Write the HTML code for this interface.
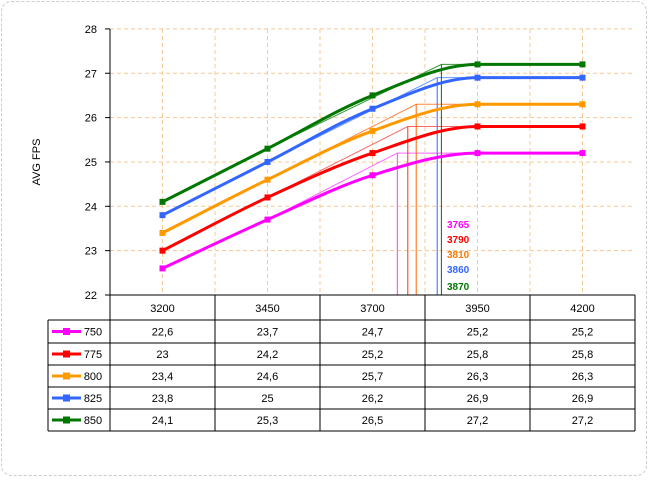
<!DOCTYPE html>
<html><head><style>
body{margin:0;background:#fff;font-family:"Liberation Sans",sans-serif;}
</style></head><body>
<svg id="s" width="648" height="477" xmlns="http://www.w3.org/2000/svg" font-family="Liberation Sans, sans-serif">
<rect x="1.5" y="1.5" width="645" height="474" rx="10" fill="#fff" stroke="#ccc" stroke-dasharray="3,2"/>
<g id="grid" stroke="#f5c896" stroke-dasharray="4,3" stroke-width="1"></g>
<text transform="translate(40,162) rotate(-90)" text-anchor="middle" font-size="11" fill="#000">AVG FPS</text>
<g id="ticks" font-size="11" text-anchor="end"></g>
<g id="thin" fill="none" stroke-width="1"></g>
<g id="main" fill="none" stroke-width="3"></g>
<g font-size="10" font-weight="bold">
<text x="447" y="228" fill="#ff00ff">3765</text>
<text x="447" y="243" fill="#ff0000">3790</text>
<text x="447" y="258" fill="#ff7700">3810</text>
<text x="447" y="273" fill="#3366ff">3860</text>
<text x="447" y="290" fill="#007700">3870</text>
</g>
<g id="tab" font-size="11" text-anchor="middle"></g>
</svg>
<script>
const NS="http://www.w3.org/2000/svg";
function el(p,t,a,txt){const e=document.createElementNS(NS,t);for(const k in a)e.setAttribute(k,a[k]);if(txt!==undefined)e.textContent=txt;document.getElementById(p).appendChild(e);return e;}
const Y=v=>295-(v-22)*44.35, X=i=>162.5+i*105;
for(let v=22;v<=28;v++){ if(v>22) el('grid','line',{x1:110,x2:635,y1:Y(v),y2:Y(v)}); el('ticks','text',{x:97,y:Y(v)+4},v); el('ticks','line',{x1:105,x2:110,y1:Y(v),y2:Y(v),stroke:'#000'}); }
for(let i=0;i<5;i++){el('grid','line',{x1:X(i),x2:X(i),y1:29,y2:295});}
for(let i=1;i<5;i++){el('grid','line',{x1:110+i*105,x2:110+i*105,y1:29,y2:295});}
el('ticks','line',{x1:110,x2:110,y1:29,y2:295,stroke:'#000'});
const S=[
['750','#ff00ff','#ff66ff',[22.6,23.7,24.7,25.2,25.2],3765],
['775','#ff0000','#ff6666',[23,24.2,25.2,25.8,25.8],3790],
['800','#ff9900','#ff8844',[23.4,24.6,25.7,26.3,26.3],3810],
['825','#3366ff','#6699ff',[23.8,25,26.2,26.9,26.9],3860],
['850','#007700','#339933',[24.1,25.3,26.5,27.2,27.2],3870]];
const vcol={3765:'#ee44ee',3790:'#ff3300',3810:'#ff6600',3860:'#3366ff',3870:'#007700'};
S.forEach(s=>{
 const d=s[3], bx=370+(s[4]-3700)*0.42, py=Y(d[3]);
 el('thin','polyline',{points:`${X(1)},${Y(d[1])} ${bx},${py} ${X(3)+15},${py}`,stroke:s[2]});
 el('thin','line',{x1:bx,x2:bx,y1:py,y2:295,stroke:vcol[s[4]]});
 const P=d.map((v,i)=>[X(i),Y(v)]);
 const dl=[];for(let i=0;i<4;i++)dl.push(P[i+1][1]-P[i][1]);
 const m=P.map((_,i)=>{if(i==0)return dl[0];if(i==4)return dl[3];if(dl[i-1]*dl[i]<=0)return 0;return (dl[i-1]+dl[i])/2;});
 let p=`M${P[0][0]},${P[0][1]}`;
 for(let i=0;i<4;i++){
  p+=` C${P[i][0]+35},${P[i][1]+m[i]/3} ${P[i+1][0]-35},${P[i+1][1]-m[i+1]/3} ${P[i+1][0]},${P[i+1][1]}`;}
 el('main','path',{d:p,stroke:s[1]});
 P.forEach(q=>{el('main','rect',{x:q[0]-3,y:q[1]-3,width:6,height:6,fill:s[1],stroke:'none'});});
});
const rows=[295,320,343,365,387,409,431];
const cols=[110,215,320,425,530,635];
const T='tab';
el(T,'line',{x1:110,x2:635,y1:295,y2:295,stroke:'#000'});
for(let r=1;r<rows.length;r++) el(T,'line',{x1:48,x2:635,y1:rows[r],y2:rows[r],stroke:'#000'});
el(T,'line',{x1:48,x2:48,y1:320,y2:431,stroke:'#000'});
cols.forEach(c=>el(T,'line',{x1:c,x2:c,y1:295,y2:431,stroke:'#000'}));
[3200,3450,3700,3950,4200].forEach((v,i)=>el(T,'text',{x:X(i),y:312},v));
S.forEach((s,r)=>{
 const cy=(rows[r+1]+rows[r+2])/2;
 el(T,'line',{x1:52,x2:81,y1:cy,y2:cy,stroke:s[1],'stroke-width':3});
 el(T,'rect',{x:63,y:cy-3.5,width:7,height:7,fill:s[1]});
 el(T,'text',{x:93,y:cy+4},s[0]);
 s[3].forEach((v,i)=>el(T,'text',{x:X(i),y:cy+4},String(v).replace('.',',')));
});
</script>
</body></html>
